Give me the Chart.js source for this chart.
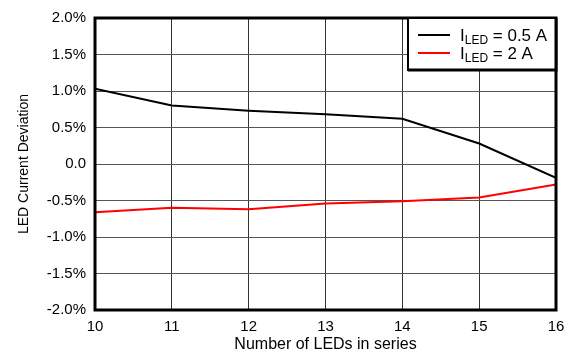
<!DOCTYPE html>
<html>
<head>
<meta charset="utf-8">
<script src="https://cdn.jsdelivr.net/npm/chart.js@4/dist/chart.umd.min.js"></script>
<style>
  html, body { margin: 0; padding: 0; background: #fff; }
  #wrap { width: 570px; height: 354px; }
</style>
</head>
<body>
<div id="wrap"><canvas id="chart"></canvas></div>
<script>
// number of LEDs in series
var ledCount = [10, 11, 12, 13, 14, 15, 16];
// LED current deviation, %
var dev05A = [1.03, 0.80, 0.73, 0.68, 0.62, 0.28, -0.19];
var dev2A = [-0.66, -0.60, -0.62, -0.54, -0.51, -0.46, -0.28];
var seriesNames = [['I', 'LED', ' = 0.5 A'], ['I', 'LED', ' = 2 A']];
var seriesColors = ['#000000', '#ff0000'];

var fontFam = '"Liberation Sans", Arial, sans-serif';

function points(ys) {
    return ledCount.map(function (x, i) { return { x: x, y: ys[i] }; });
}

// frame round the plot + boxed legend with subscripts
var framePlugin = {
    id: 'frame',
    afterDraw: function (chart) {
        var ctx = chart.ctx;
        var a = chart.chartArea;
        ctx.save();
        ctx.strokeStyle = '#000';
        ctx.lineWidth = 3;
        ctx.strokeRect(a.left, a.top, a.right - a.left, a.bottom - a.top);

        // legend box
        var bx = a.right - 148, by = a.top, bw = 148, bh = 52;
        ctx.fillStyle = '#fff';
        ctx.fillRect(bx, by, bw, bh);
        ctx.lineWidth = 2;
        ctx.strokeRect(bx, by, bw, bh);
        ctx.lineWidth = 3;
        ctx.beginPath();
        ctx.moveTo(bx, by + bh);
        ctx.lineTo(bx + bw, by + bh);
        ctx.lineTo(bx + bw, by);
        ctx.stroke();

        chart.data.datasets.forEach(function (ds, i) {
            var ly = by + 17 + i * 18;
            ctx.strokeStyle = ds.borderColor;
            ctx.lineWidth = 2;
            ctx.beginPath();
            ctx.moveTo(bx + 10, ly);
            ctx.lineTo(bx + 42, ly);
            ctx.stroke();

            var parts = seriesNames[i];
            var tx = bx + 52;
            ctx.fillStyle = '#000';
            ctx.textBaseline = 'alphabetic';
            ctx.font = '17px ' + fontFam;
            ctx.fillText(parts[0], tx, ly + 6);
            tx += ctx.measureText(parts[0]).width;
            ctx.font = '12px ' + fontFam;
            ctx.fillText(parts[1], tx, ly + 9);
            tx += ctx.measureText(parts[1]).width;
            ctx.font = '17px ' + fontFam;
            ctx.fillText(parts[2], tx, ly + 6);
        });
        ctx.restore();
    }
};

var ctx = document.getElementById('chart').getContext('2d');
var myChart = new Chart(ctx, {
    type: 'line',
    data: {
        datasets: [{
            label: 'ILED = 0.5 A',
            data: points(dev05A),
            borderColor: seriesColors[0],
            borderWidth: 2,
            pointRadius: 0,
            tension: 0
        }, {
            label: 'ILED = 2 A',
            data: points(dev2A),
            borderColor: seriesColors[1],
            borderWidth: 2,
            pointRadius: 0,
            tension: 0
        }]
    },
    options: {
        responsive: true,
        maintainAspectRatio: false,
        animation: false,
        layout: { padding: { top: 17, right: 14, left: 16, bottom: 0 } },
        plugins: {
            legend: { display: false },
            tooltip: { enabled: false }
        },
        scales: {
            x: {
                type: 'linear',
                min: 10,
                max: 16,
                ticks: {
                    stepSize: 1,
                    color: '#000',
                    font: { family: fontFam, size: 15 },
                    padding: 8
                },
                grid: { color: '#333', lineWidth: 1, drawTicks: false },
                border: { display: false },
                title: {
                    display: true,
                    text: 'Number of LEDs in series',
                    color: '#000',
                    font: { family: fontFam, size: 16 },
                    padding: { top: 0, bottom: 0 }
                },
                afterFit: function (s) {
                    s.height = 44;
                    s.paddingRight = 0;
                }
            },
            y: {
                min: -2,
                max: 2,
                ticks: {
                    stepSize: 0.5,
                    color: '#000',
                    font: { family: fontFam, size: 15 },
                    padding: 9,
                    callback: function (v) {
                        return v === 0 ? '0.0' : v.toFixed(1) + '%';
                    }
                },
                grid: { color: '#555', lineWidth: 1, drawTicks: false },
                border: { display: false },
                title: {
                    display: true,
                    text: 'LED Current Deviation',
                    color: '#000',
                    font: { family: fontFam, size: 14 },
                    padding: { top: 0, bottom: 0 }
                },
                afterFit: function (s) { s.width = 79; }
            }
        }
    },
    plugins: [framePlugin]
});
</script>
</body>
</html>
